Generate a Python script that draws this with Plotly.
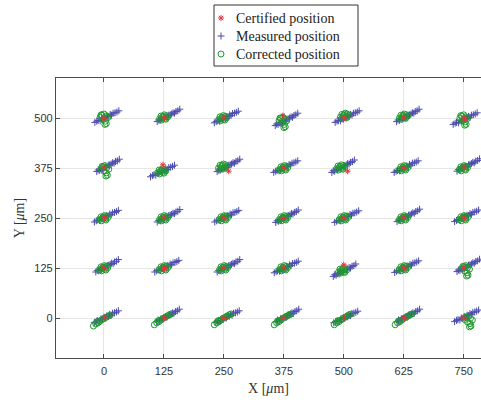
import plotly.graph_objects as go

# Grid of nominal positions (µm)
x_grid = [0, 125, 250, 375, 500, 625, 750]
y_grid = [0, 125, 250, 375, 500]
x_ticks = [0, 125, 250, 375, 500, 625, 750]
y_ticks = [0, 125, 250, 375, 500]
legend_labels = ["Certified position", "Measured position", "Corrected position"]

# Certified position offsets from nominal (rows: y=0..500, cols: x=0..750)
cert_dx = [
    [2, 1, 0, -1, 1, 1, 0],
    [0, 1, -1, 0, 0, 1, 0],
    [1, 0, 0, -1, 0, 0, 1],
    [0, -2, 10, 0, 8, 0, 1],
    [0, 1, 0, -2, 1, 0, 2],
]
cert_dy = [
    [1, 0, -1, 0, 1, 0, 0],
    [0, -1, 0, 1, 8, 0, 1],
    [0, 1, 0, -1, 0, 1, 0],
    [1, 8, -8, 0, -8, 0, 1],
    [-1, 0, 1, 6, 0, 1, -2],
]

# Measured position scatter patterns (offsets, µm)
meas_pat_dx = [
    [-24, -20, -17, -13, -10, -7, -4, -1, 2, 5, 8, 11, 14, 18, 22, 26],
    [-20, -17, -14, -11, -8, -5, -2, 1, 4, 7, 10, 13, 16, 19, 23, 27],
]
meas_pat_dy = [
    [-14, -11, -9, -10, -5, -6, -1, -3, 2, 1, 6, 4, 9, 10, 12, 15],
    [-13, -9, -10, -6, -7, -3, -1, -2, 3, 4, 6, 9, 8, 12, 14, 18],
]
meas_pat_idx = [
    [0, 1, 0, 1, 0, 1, 0],
    [1, 0, 1, 0, 1, 0, 1],
    [0, 1, 0, 1, 0, 1, 0],
    [1, 0, 1, 0, 1, 0, 1],
    [0, 1, 0, 1, 0, 1, 0],
]
meas_shift_x = [
    [4, 5, 6, 4, 3, 6, 5],
    [3, 5, 6, 4, -2, 5, 6],
    [4, 6, 5, 3, 5, 6, 5],
    [5, -4, 6, 3, -5, 4, 6],
    [5, 6, 4, 2, 6, 5, 2],
]
meas_shift_y = [
    [3, 4, 3, 4, 2, 4, 5],
    [3, 4, 3, 2, -8, 3, 4],
    [4, 3, 4, 2, 3, 4, 5],
    [4, -8, 4, 3, 2, 3, 5],
    [3, 4, 2, -6, 3, 4, -2],
]

# Corrected position scatter patterns (offsets, µm)
corr_pat_dx = [
    [-9, -5, -2, 2, 5, 8, -6, 1, 4, -3],
    [-20, -15, -10, -6, -2, 3, 7, 11, 15, -12],
    [-8, -4, 0, 4, 8, -2, 3, 5, -6, 2],
]
corr_pat_dy = [
    [-4, -7, 2, -3, 4, 1, 3, 6, -5, -1],
    [-17, -12, -9, -5, -1, 2, 5, 8, 10, -7],
    [-2, 3, 6, 1, -3, -8, -12, -18, 4, -20],
]
corr_pat_idx = [
    [1, 1, 1, 1, 1, 1, 2],
    [0, 0, 0, 0, 0, 0, 2],
    [0, 0, 0, 0, 0, 0, 0],
    [2, 0, 0, 0, 0, 0, 0],
    [2, 0, 0, 2, 0, 0, 2],
]
corr_shift_x = [
    [-2, 0, 0, 0, 0, 2, 10],
    [0, 0, 0, 0, -2, 0, 4],
    [0, 0, 0, 0, 0, 0, 0],
    [2, -4, -2, 0, -6, 0, 0],
    [0, 0, -2, -2, 2, 0, 0],
]
corr_shift_y = [
    [-3, 0, 0, 0, 0, 0, -2],
    [0, 0, 0, 0, -6, 0, 0],
    [0, 0, 0, 0, 0, 0, 0],
    [0, -8, 4, 0, 2, 0, 0],
    [4, 2, 0, -4, 6, 4, 2],
]

cx, cy, mx, my, gx, gy = [], [], [], [], [], []
for j, yg in enumerate(y_grid):
    for i, xg in enumerate(x_grid):
        cx.append(xg + cert_dx[j][i])
        cy.append(yg + cert_dy[j][i])
        p = meas_pat_idx[j][i]
        for dx, dy in zip(meas_pat_dx[p], meas_pat_dy[p]):
            mx.append(xg + meas_shift_x[j][i] + dx)
            my.append(yg + meas_shift_y[j][i] + dy)
        q = corr_pat_idx[j][i]
        for dx, dy in zip(corr_pat_dx[q], corr_pat_dy[q]):
            gx.append(xg + corr_shift_x[j][i] + dx)
            gy.append(yg + corr_shift_y[j][i] + dy)

W, H = 481, 404
PL, PR, PT, PB = 56, 481, 78, 358  # plot area in pixels

styles = {
    "Certified position": dict(symbol="asterisk-open", size=5, color="#e8323c",
                               line=dict(color="#e8323c", width=1)),
    "Measured position": dict(symbol="cross-thin", size=5, color="#4b4bb0",
                              line=dict(color="#4b4bb0", width=1)),
    "Corrected position": dict(symbol="circle-open", size=6, color="#1f9a2e",
                               line=dict(width=1)),
}

fig = go.Figure()
fig.add_trace(go.Scatter(x=mx, y=my, mode="markers", name="Measured position",
                         marker=styles["Measured position"], showlegend=False))
fig.add_trace(go.Scatter(x=gx, y=gy, mode="markers", name="Corrected position",
                         marker=styles["Corrected position"], showlegend=False))
fig.add_trace(go.Scatter(x=cx, y=cy, mode="markers", name="Certified position",
                         marker=styles["Certified position"], showlegend=False))

# Legend (MATLAB-style box) drawn on a pixel-space overlay axis
leg_left, leg_right, leg_top, leg_bottom = 214, 358, 5, 66
leg_row_y = [18, 36, 54]
leg_sym_x = 221
leg_txt_x = 234
for lab, ry in zip(legend_labels, leg_row_y):
    fig.add_trace(go.Scatter(x=[leg_sym_x], y=[ry], mode="markers", name=lab,
                             marker=styles[lab], showlegend=False, hoverinfo="skip",
                             xaxis="x2", yaxis="y2"))
    fig.add_annotation(x=leg_txt_x, y=ry, xref="x2", yref="y2", text=lab,
                       showarrow=False, xanchor="left", yanchor="middle",
                       font=dict(family="Liberation Serif, Times New Roman", size=14,
                                 color="#222222"))
fig.add_shape(type="rect", xref="x2", yref="y2", x0=leg_left, x1=leg_right,
              y0=leg_top, y1=leg_bottom, line=dict(color="#333333", width=1),
              fillcolor="white", layer="below")

axis_common = dict(
    ticks="inside", ticklen=4, tickcolor="#4d4d4d", tickwidth=1,
    showline=True, linecolor="#4d4d4d", linewidth=1.3,
    showgrid=True, gridcolor="#e6e6e6", gridwidth=1, zeroline=False,
    automargin=False,
    tickfont=dict(family="Liberation Sans, Arial", size=11, color="#333333"),
)

fig.update_layout(
    width=W, height=H,
    margin=dict(l=0, r=0, t=0, b=0, autoexpand=False),
    plot_bgcolor="rgba(0,0,0,0)", paper_bgcolor="white",
    showlegend=False,
    xaxis=dict(
        domain=[PL / W, PR / W],
        range=[-100, 786], tickvals=x_ticks, ticktext=[str(v) for v in x_ticks],
        mirror="ticks", ticklabelstandoff=3,
        title=dict(text="X [<i>μ</i>m]", standoff=6,
                   font=dict(family="Liberation Serif, Times New Roman", size=14, color="#333333")),
        **axis_common,
    ),
    yaxis=dict(
        domain=[(H - PB) / H, (H - PT) / H],
        range=[-100, 600], tickvals=y_ticks, ticktext=[str(v) for v in y_ticks],
        mirror=False,
        title=dict(text="Y [<i>μ</i>m]", standoff=6,
                   font=dict(family="Liberation Serif, Times New Roman", size=14, color="#333333")),
        **axis_common,
    ),
    xaxis2=dict(domain=[0, 1], range=[0, W], visible=False, anchor="y2",
                fixedrange=True),
    yaxis2=dict(domain=[0, 1], range=[H, 0], visible=False, anchor="x2",
                fixedrange=True),
)

fig.write_html(
    "out.html",
    config={"displayModeBar": False},
    post_script="document.body.style.margin='0';document.body.style.overflow='hidden';",
)
